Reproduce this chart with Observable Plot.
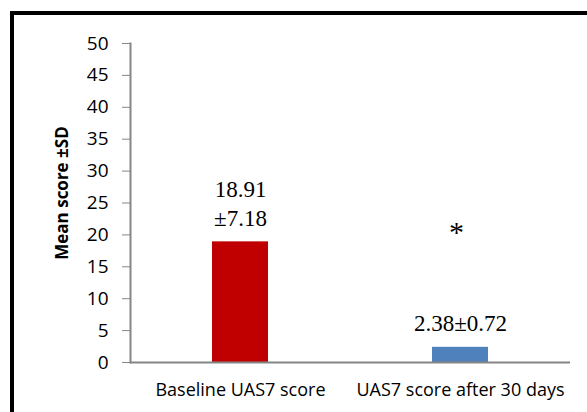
<!DOCTYPE html>
<html>
<head>
<meta charset="utf-8">
<script src="https://cdn.jsdelivr.net/npm/d3@7"></script>
<script src="https://cdn.jsdelivr.net/npm/@observablehq/plot@0.6"></script>
<style>
  html, body { margin: 0; padding: 0; background: #fff; }
  #wrap { position: relative; width: 587px; height: 412px; overflow: hidden; }
  #frame { position: absolute; left: 10px; top: 11px; right: -10px; bottom: -10px;
           border-left: 4px solid #000; border-top: 4px solid #000; pointer-events: none; }
  #wrap svg { position: absolute; left: 0; top: 0; }
</style>
</head>
<body>
<div id="wrap"><div id="frame"></div></div>
<script>
const categories = ["Baseline UAS7 score", "UAS7 score after 30 days"];
const means = [18.91, 2.38];
const sds = [7.18, 0.72];
const valueLabels = ["18.91\n±7.18", "2.38±0.72"];
const colors = ["#C00000", "#4F81BD"];
const significance = ["", "*"];
const yTicks = [0, 5, 10, 15, 20, 25, 30, 35, 40, 45, 50];

const data = categories.map((c, i) => ({
  cat: c, mean: means[i], sd: sds[i], label: valueLabels[i], color: colors[i], sig: significance[i]
}));

const axisColor = "#868686";
const serif = "'Liberation Serif', 'Times New Roman', serif";

const chart = Plot.plot({
  width: 587,
  height: 412,
  marginLeft: 130,
  marginRight: 17,
  marginTop: 43,
  marginBottom: 50,
  style: { fontFamily: "'Open Sans', sans-serif", fontSize: "18px", background: "transparent", overflow: "visible" },
  x: { domain: categories, paddingInner: 0.745, paddingOuter: 0.3725, label: null },
  y: { domain: [0, 50], label: null },
  marks: [
    Plot.axisY({ ticks: yTicks, tickSize: 8, tickPadding: 14, stroke: axisColor, color: "#000",
                 fontSize: "19px", label: null }),
    Plot.axisX({ tickSize: 0, tickPadding: 21, fontSize: "18px", color: "#000", label: null }),
    Plot.text(["Mean score ±SD"], { frameAnchor: "left", textAnchor: "middle", dx: -68, dy: -10,
                 rotate: -90, fontSize: "17px", fontWeight: "bold", fill: "#000" }),
    Plot.barY(data, { x: "cat", y: "mean", fill: "color" }),
    Plot.ruleY([0], { stroke: axisColor, strokeWidth: 2 }),
    Plot.frame({ anchor: "left", stroke: axisColor, strokeWidth: 2 }),
    Plot.text(data, { x: "cat", y: "mean", text: "label", lineAnchor: "bottom", dy: -16,
                 fontFamily: serif, fontSize: "23px", lineHeight: 1.26, fill: "#000" }),
    Plot.text(data, { x: "cat", y: "mean", text: "sig", dy: -115, dx: -4,
                 fontFamily: serif, fontSize: "30px", fill: "#000" })
  ]
});

document.getElementById("wrap").insertBefore(chart, document.getElementById("frame"));
</script>
</body>
</html>
